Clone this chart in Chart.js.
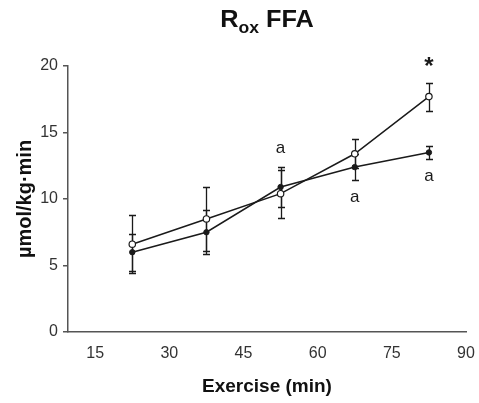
<!DOCTYPE html>
<html><head><meta charset="utf-8">
<script src="https://cdn.jsdelivr.net/npm/chart.js@4"></script>
<style>
html,body{margin:0;padding:0;background:#fff;}
#wrap{position:relative;width:479px;height:403px;}
canvas{position:absolute;left:0;top:0;}
#title{position:absolute;left:68px;width:398px;top:8px;text-align:center;font:bold 23px "Liberation Sans",Arial,sans-serif;line-height:23px;color:#111;transform:scaleX(1.1);transform-origin:50% 50%;}
#title span{font-size:16px;position:relative;top:6px;}
</style>
</head><body>
<div id="wrap">
<canvas id="c" width="479" height="403"></canvas>
<div id="title">R<span>ox</span> FFA</div>
</div>
<script>
// Data
const timePoints = [22.5, 37.5, 52.5, 67.5, 82.5];
const openMean = [6.6, 8.5, 10.4, 13.4, 17.7];
const openErr = [2.2, 2.4, 1.8, 1.1, 1.05];
const filledMean = [6.0, 7.5, 10.9, 12.4, 13.5];
const filledErr = [1.4, 1.65, 1.5, 0.95, 0.5];
const xTickValues = [15, 30, 45, 60, 75, 90];
const yTickValues = [0, 5, 10, 15, 20];
const annX = [52.5, 67.5, 82.5, 82.5];
const annY = [13.8, 10.15, 11.7, 19.9];
const annText = ['a', 'a', 'a', '*'];

const FONT = '"Liberation Sans", Arial, sans-serif';
const INK = '#1a1a1a';
const AXIS = '#555';

const errorBars = {
  id: 'errorBars',
  beforeDatasetsDraw(chart) {
    const {ctx, scales: {x, y}} = chart;
    ctx.save();
    ctx.strokeStyle = INK;
    ctx.lineWidth = 1.3;
    [[openMean, openErr], [filledMean, filledErr]].forEach(([m, e]) => {
      m.forEach((v, i) => {
        const px = Math.round(x.getPixelForValue(timePoints[i])) + 0.5;
        const top = Math.round(y.getPixelForValue(v + e[i])) + 0.5;
        const bot = Math.round(y.getPixelForValue(v - e[i])) + 0.5;
        ctx.beginPath();
        ctx.moveTo(px, top); ctx.lineTo(px, bot);
        ctx.moveTo(px - 3.5, top); ctx.lineTo(px + 3.5, top);
        ctx.moveTo(px - 3.5, bot); ctx.lineTo(px + 3.5, bot);
        ctx.stroke();
      });
    });
    ctx.restore();
  }
};

const annotations = {
  id: 'annotations',
  afterDatasetsDraw(chart) {
    const {ctx, scales: {x, y}} = chart;
    ctx.save();
    ctx.fillStyle = INK;
    ctx.textAlign = 'center';
    ctx.textBaseline = 'middle';
    annText.forEach((t, i) => {
      ctx.font = (t === '*' ? 'bold 24px ' : '17px ') + FONT;
      ctx.fillText(t, x.getPixelForValue(annX[i]), y.getPixelForValue(annY[i]));
    });
    ctx.restore();
  }
};

new Chart(document.getElementById('c'), {
  type: 'line',
  data: {
    datasets: [
      {
        label: 'open',
        data: timePoints.map((t, i) => ({x: t, y: openMean[i]})),
        borderColor: INK, borderWidth: 1.5,
        pointStyle: 'circle', pointRadius: 3.2,
        pointBackgroundColor: '#fff', pointBorderColor: INK, pointBorderWidth: 1.2,
        tension: 0, fill: false
      },
      {
        label: 'filled',
        data: timePoints.map((t, i) => ({x: t, y: filledMean[i]})),
        borderColor: INK, borderWidth: 1.5,
        pointStyle: 'circle', pointRadius: 2.7,
        pointBackgroundColor: INK, pointBorderColor: INK, pointBorderWidth: 1,
        tension: 0, fill: false
      }
    ]
  },
  options: {
    responsive: false,
    animation: false,
    devicePixelRatio: 1,
    layout: {padding: {top: 66, right: 13, left: 0, bottom: 0}},
    plugins: {legend: {display: false}, tooltip: {enabled: false}},
    scales: {
      x: {
        type: 'linear', min: 9.5, max: 90,
        afterBuildTicks: s => { s.ticks = xTickValues.map(v => ({value: v})); },
        afterFit: s => { s.height = 71; s.paddingRight = 0; s.paddingLeft = 0; },
        ticks: {autoSkip: false, maxRotation: 0, padding: 12, color: '#333', font: {family: FONT, size: 16}},
        grid: {display: true, drawOnChartArea: false, drawTicks: false},
        border: {display: true, color: AXIS, width: 1.5},
        title: {display: true, text: 'Exercise (min)', color: '#111', font: {family: FONT, size: 19, weight: 'bold'}, padding: {top: 5, bottom: 5}}
      },
      y: {
        type: 'linear', min: 0, max: 20,
        afterBuildTicks: s => { s.ticks = yTickValues.map(v => ({value: v})); },
        afterFit: s => { s.width = 68; },
        ticks: {padding: 5, color: '#333', font: {family: FONT, size: 16}},
        grid: {display: true, drawOnChartArea: false, drawTicks: true, tickLength: 5, color: AXIS, lineWidth: 1.5},
        border: {display: true, color: AXIS, width: 1.5},
        title: {display: true, text: 'µmol/kg·min', color: '#111', font: {family: FONT, size: 20, weight: 'bold'}, padding: {top: 13, bottom: 0}}
      }
    }
  },
  plugins: [errorBars, annotations]
});
</script>
</body></html>
